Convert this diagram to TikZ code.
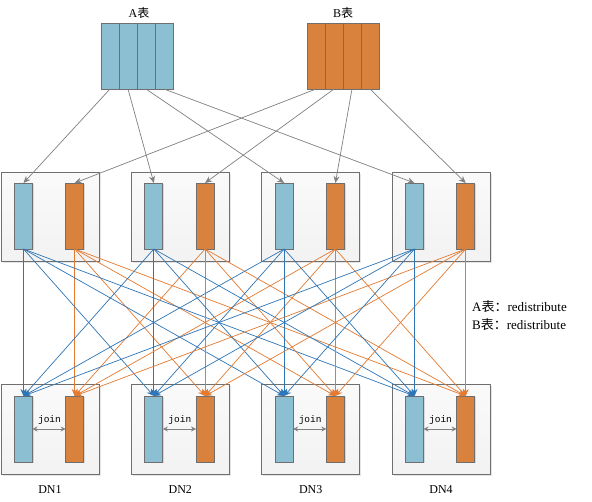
\documentclass[tikz,border=0pt]{standalone}
\usepackage{fontspec}
\setmainfont{Liberation Serif}
\setmonofont{Liberation Mono}
\newfontfamily\cjk{Noto Sans CJK SC}
\usetikzlibrary{arrows.meta,shadows}
\definecolor{barblue}{HTML}{8BBFD1}
\definecolor{barorange}{HTML}{D9823E}
\definecolor{lineblue}{HTML}{2E75B6}
\definecolor{lineorange}{HTML}{E47A30}
\definecolor{edgegray}{HTML}{6F6F6F}
\definecolor{arrowgray}{HTML}{808080}
\begin{document}
\begin{tikzpicture}[x=1pt,y=-1pt,
  colbox/.style={draw=edgegray, line width=0.8pt, minimum width=18pt, minimum height=66pt, inner sep=0pt, outer sep=0pt},
  bluecol/.style={colbox, fill=barblue},
  orangecol/.style={colbox, fill=barorange},
  shcol/.style={drop shadow={shadow xshift=1.2pt, shadow yshift=-1.2pt, opacity=0.25, fill=gray}},
  dnbox/.style={draw=edgegray, line width=0.8pt, minimum width=98pt, minimum height=89.5pt, inner sep=0pt, outer sep=0pt, top color=white!96!gray, bottom color=white!90!gray, drop shadow={shadow xshift=1.5pt, shadow yshift=-1.5pt, opacity=0.2, fill=gray}},
  grayarrow/.style={draw=arrowgray, line width=0.7pt, -{Stealth[length=7pt,width=6pt]}},
  blueline/.style={draw=lineblue, line width=0.7pt, -{Stealth[length=7pt,width=6pt]}},
  orangeline/.style={draw=lineorange, line width=0.7pt, -{Stealth[length=7pt,width=6pt]}},
  joinarrow/.style={draw=arrowgray, line width=1pt, {Stealth[length=5pt,width=5pt]}-{Stealth[length=5pt,width=5pt]}},
  lbl/.style={font=\fontsize{12}{14}\selectfont, inner sep=0pt},
  notelbl/.style={font=\fontsize{13}{15}\selectfont, inner sep=0pt},
  joinlbl/.style={font=\ttfamily\fontsize{9.5}{11}\selectfont, inner sep=0pt}
]
\useasboundingbox[fill=white] (0,0) rectangle (592,501);

% source tables
\foreach \i/\x in {1/110,2/128,3/146,4/164} {
  \node[bluecol, shcol] (A\i) at (\x,56) {};
}
\foreach \i/\x in {1/316,2/334,3/352,4/370} {
  \node[orangecol, shcol] (B\i) at (\x,56) {};
}
\node[lbl] (Alabel) at (139,13) {A{\cjk 表}};
\node[lbl] (Blabel) at (343,13) {B{\cjk 表}};

% nodes
\foreach \i/\x in {1/1,2/131.33,3/261.67,4/392} {
  \node[dnbox, anchor=north west] (T\i) at (\x,172) {};
  \node[bluecol, shcol] (Ta\i) at (\x+22.5,216) {};
  \node[orangecol, shcol] (Tb\i) at (\x+73.7,216) {};
  \node[dnbox, anchor=north west] (D\i) at (\x,384.5) {};
  \node[bluecol, shcol] (Da\i) at (\x+22.5,429) {};
  \node[orangecol, shcol] (Db\i) at (\x+73.7,429) {};
  \node[lbl] (DN\i) at (\x+49,490) {DN\i};
  \draw[joinarrow] (Da\i.east) -- (Db\i.west);
  \node[joinlbl] (J\i) at (\x+48.5,420) {join};
}

% distribution arrows
\foreach \i in {1,...,4} {
  \draw[grayarrow] (A\i.south) -- (Ta\i.north);
  \draw[grayarrow] (B\i.south) -- (Tb\i.north);
}
\foreach \i in {1,...,4} {
  \foreach \j in {1,...,4} {
    \draw[blueline] (Ta\i.south) -- (Da\j.north);
    \draw[orangeline] (Tb\i.south) -- (Db\j.north);
  }
}

\node[notelbl, anchor=west] (noteA) at (472,307) {A{\cjk 表：}redistribute};
\node[notelbl, anchor=west] (noteB) at (472,324.5) {B{\cjk 表：}redistribute};
\end{tikzpicture}
\end{document}
